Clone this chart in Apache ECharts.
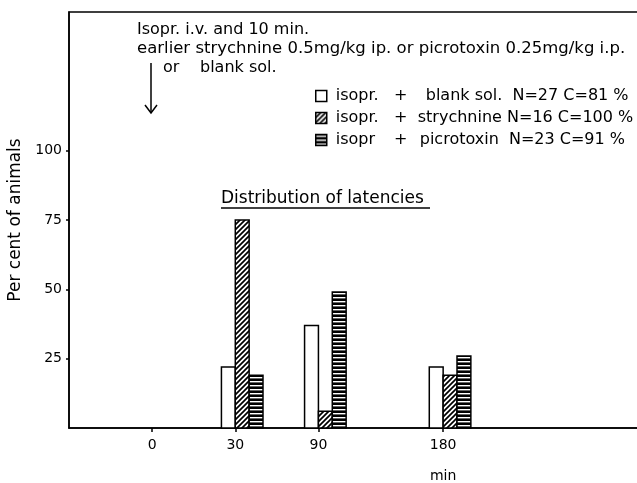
<!DOCTYPE html>
<html><head><meta charset="utf-8">
<script src="https://cdn.jsdelivr.net/npm/echarts@6/dist/echarts.min.js"></script>
<style>html,body{margin:0;padding:0;background:#fff}#c{width:637px;height:483px}</style>
</head><body><div id="c"></div>
<script>
// ---- data ----
var tickLabels = ['0', '30', '90', '180'];
var tickPositions = [0, 1, 2, 3.5];           // uneven spacing of the original time axis
var groupMinutes = ['30', '90', '180'];
var blankSol = [22, 37, 22];
var strychnine = [75, 6, 19];
var picrotoxin = [19, 49, 26];
var yTicks = [25, 50, 75, 100];
var seriesNames = ['blank', 'strychnine', 'picrotoxin'];
var legendTexts = [
  ['isopr.', '+', 'blank sol.  N=27 C=81 %'],
  ['isopr.', '+', 'strychnine N=16 C=100 %'],
  ['isopr', '+', 'picrotoxin  N=23 C=91 %']
];

var FONT = 'DejaVu Sans';

function makePattern(kind) {
  var c = document.createElement('canvas');
  var ctx;
  if (kind === 'hatch') {
    c.width = 5; c.height = 5; ctx = c.getContext('2d');
    ctx.fillStyle = '#fff'; ctx.fillRect(0, 0, 5, 5);
    ctx.strokeStyle = '#000'; ctx.lineWidth = 1.7;
    ctx.beginPath();
    ctx.moveTo(-1, 6); ctx.lineTo(6, -1);
    ctx.moveTo(-1, 1); ctx.lineTo(1, -1);
    ctx.moveTo(4, 6); ctx.lineTo(6, 4);
    ctx.stroke();
  } else if (kind === 'stripe') {
    c.width = 4; c.height = 4; ctx = c.getContext('2d');
    ctx.fillStyle = '#000'; ctx.fillRect(0, 0, 4, 4);
    ctx.fillStyle = '#fff'; ctx.fillRect(0, 1, 4, 1.4);
  } else {
    c.width = 4; c.height = 4; ctx = c.getContext('2d');
    ctx.fillStyle = '#fff'; ctx.fillRect(0, 0, 4, 4);
  }
  return { image: c, repeat: 'repeat' };
}
var fills = [makePattern('plain'), makePattern('hatch'), makePattern('stripe')];
var values = [blankSol, strychnine, picrotoxin];

function posOf(label) { return tickPositions[tickLabels.indexOf(label)]; }

var series = seriesNames.map(function (name, si) {
  return {
    type: 'custom',
    name: name,
    encode: { x: 0, y: 1 },
    data: groupMinutes.map(function (m, i) { return [posOf(m), values[si][i]]; }),
    itemStyle: { color: fills[si], borderColor: '#000', borderWidth: 1.5 },
    renderItem: function (params, api) {
      var top = api.coord([api.value(0), api.value(1)]);
      var base = api.coord([api.value(0), 0]);
      var w = api.size([1, 0])[0] / 6;
      var left = top[0] + (params.seriesIndex - 1) * w;
      return {
        type: 'rect',
        shape: { x: left, y: top[1], width: w, height: base[1] - top[1] },
        style: { fill: fills[params.seriesIndex], stroke: '#000', lineWidth: 1.5 }
      };
    }
  };
});

var chart = echarts.init(document.getElementById('c'), null, { renderer: 'canvas' });
var option = {
  animation: false,
  backgroundColor: '#fff',
  textStyle: { fontFamily: FONT, color: '#000' },
  grid: { left: 69, top: 12, right: -14, bottom: 55, outerBoundsMode: 'none', show: true, borderColor: '#000', borderWidth: 1.5, backgroundColor: 'transparent', containLabel: false },
  title: {
    text: 'Distribution of latencies', left: 216, top: 185,
    textStyle: { fontFamily: FONT, fontSize: 17, fontWeight: 'normal', color: '#000' }
  },
  legend: {
    orient: 'vertical', left: 310, top: 83, itemWidth: 11, itemHeight: 11, itemGap: 6,
    selectedMode: false,
    textStyle: {
      fontFamily: FONT, fontSize: 16, color: '#000',
      rich: {
        a: { fontFamily: FONT, fontSize: 16, width: 58, align: 'left', padding: [0, 0, 0, 4] },
        b: { fontFamily: FONT, fontSize: 16, width: 14, align: 'center' },
        c0: { fontFamily: FONT, fontSize: 16, padding: [0, 0, 0, 18] },
        c1: { fontFamily: FONT, fontSize: 16, padding: [0, 0, 0, 10] },
        c2: { fontFamily: FONT, fontSize: 16, padding: [0, 0, 0, 12] }
      }
    },
    formatter: function (n) {
      var i = seriesNames.indexOf(n), t = legendTexts[i];
      return '{a|' + t[0] + '}{b|' + t[1] + '}{c' + i + '|' + t[2] + '}';
    },
    data: seriesNames.map(function (n, i) {
      return { name: n, icon: 'rect', itemStyle: { color: fills[i], borderColor: '#000', borderWidth: 1.5 } };
    })
  },
  xAxis: {
    type: 'value', min: -1, max: 6,
    splitLine: { show: false },
    axisLine: { lineStyle: { color: '#000', width: 1.5 } },
    axisTick: { customValues: tickPositions, length: 4, lineStyle: { color: '#000', width: 1.5 } },
    axisLabel: {
      customValues: tickPositions, margin: 10, fontSize: 14, color: '#000', fontFamily: FONT,
      formatter: function (v) { return tickLabels[tickPositions.indexOf(v)]; }
    }
  },
  yAxis: {
    type: 'value', min: 0, max: 150,
    name: 'Per cent of animals', nameLocation: 'middle', nameGap: 38, nameRotate: 90,
    nameTextStyle: { fontFamily: FONT, fontSize: 17, color: '#000' },
    splitLine: { show: false },
    axisLine: { show: true, onZero: false, lineStyle: { color: '#000', width: 1.5 } },
    axisTick: { customValues: yTicks, length: 3, lineStyle: { color: '#000', width: 1.5 } },
    axisLabel: { customValues: yTicks, margin: 7, fontSize: 14, color: '#000', fontFamily: FONT }
  },
  graphic: [
    { id: 'l1', type: 'text', x: 137, y: 30, style: { text: 'Isopr. i.v. and 10 min.', fontFamily: FONT, fontSize: 16, fill: '#000', verticalAlign: 'middle' } },
    { id: 'l2', type: 'text', x: 137, y: 49, style: { text: 'earlier strychnine 0.5mg/kg ip. or picrotoxin 0.25mg/kg i.p.', fontFamily: FONT, fontSize: 16.5, fill: '#000', verticalAlign: 'middle' } },
    { id: 'l3a', type: 'text', x: 163, y: 68, style: { text: 'or', fontFamily: FONT, fontSize: 16, fill: '#000', verticalAlign: 'middle' } },
    { id: 'l3b', type: 'text', x: 200, y: 68, style: { text: 'blank sol.', fontFamily: FONT, fontSize: 16, fill: '#000', verticalAlign: 'middle' } },
    { id: 'arr1', type: 'polyline', shape: { points: [[151, 63], [151, 113]] }, style: { stroke: '#000', lineWidth: 1.5, fill: null } },
    { id: 'arr2', type: 'polyline', shape: { points: [[145, 105], [151, 113], [157, 105]] }, style: { stroke: '#000', lineWidth: 1.5, fill: null } },
    { id: 'ul', type: 'line', shape: { x1: 221, y1: 208, x2: 430, y2: 208 }, style: { stroke: '#000', lineWidth: 1.5 } }
  ],
  series: series
};
chart.setOption(option);
var p = chart.convertToPixel({ xAxisIndex: 0 }, posOf('180'));
chart.setOption({ graphic: [{ id: 'minLabel', type: 'text', x: p, y: 476, style: { text: 'min', fontFamily: FONT, fontSize: 14, fill: '#000', align: 'center', verticalAlign: 'middle' } }] });
</script>
</body></html>
